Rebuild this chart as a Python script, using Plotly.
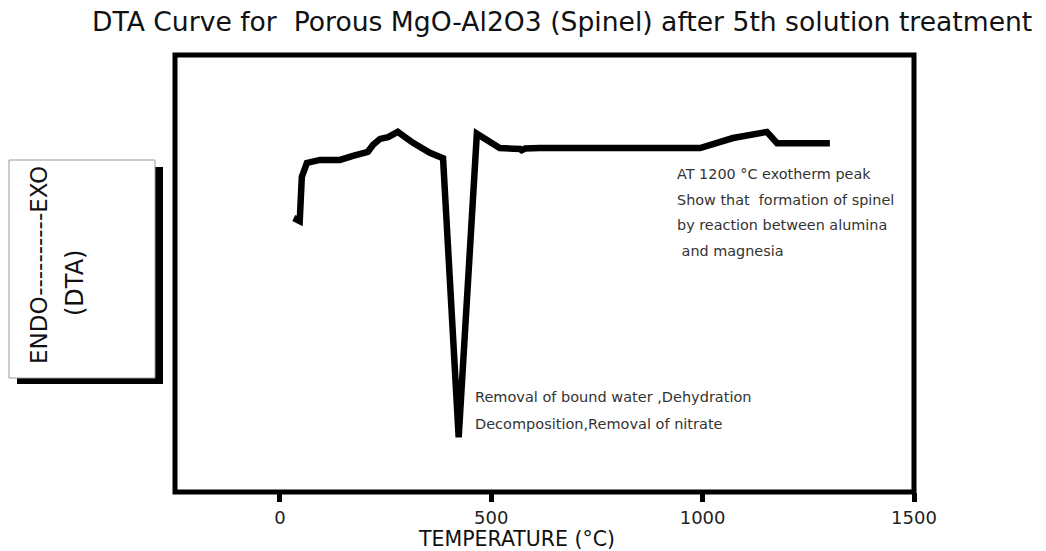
import plotly.graph_objects as go

# ---- data ----
temperature_c = [33, 47, 52, 64, 95, 142, 173, 208, 220, 237, 256, 279, 315, 355, 386,
                 423, 466, 520, 568, 572, 580, 615, 994, 1072, 1152, 1176, 1301]
dta_signal = [62.7, 62.0, 72.1, 75.3, 76.0, 76.0, 76.9, 77.8, 79.4, 80.8, 81.2, 82.4, 79.9,
              77.6, 76.4, 12.5, 82.0, 78.7, 78.5, 78.2, 78.6, 78.7, 78.7, 81.0, 82.4, 79.8, 79.8]
x_ticks = [0, 500, 1000, 1500]

title_text = "DTA Curve for  Porous MgO-Al2O3 (Spinel) after 5th solution treatment"
x_title = "TEMPERATURE (°C)"
y_label_1 = "ENDO----------EXO"
y_label_2 = "(DTA)"
note_exo = ["AT 1200 °C exotherm peak", "Show that  formation of spinel",
            "by reaction between alumina", " and magnesia"]
note_endo = ["Removal of bound water ,Dehydration", "Decomposition,Removal of nitrate"]

W, H = 1046, 551
ML, MR, MT, MB = 175, 132, 55, 59
PW, PH = W - ML - MR, H - MT - MB


def px(x):
    return (x - ML) / PW


def py(y):
    return (H - MB - y) / PH


FONT = "DejaVu Sans"

fig = go.Figure()
fig.add_trace(go.Scatter(x=temperature_c, y=dta_signal, mode="lines",
                         line=dict(color="black", width=6.5), hoverinfo="skip",
                         showlegend=False))

shapes = [
    # frame
    dict(type="rect", xref="paper", yref="paper", x0=0, x1=1, y0=0, y1=1,
         line=dict(color="black", width=5)),
    # y-label box shadow
    dict(type="rect", xref="paper", yref="paper", x0=px(17), x1=px(163), y0=py(384), y1=py(167),
         fillcolor="black", line=dict(width=0)),
    # y-label box
    dict(type="rect", xref="paper", yref="paper", x0=px(9), x1=px(155), y0=py(378), y1=py(160),
         fillcolor="white", line=dict(color="#9a9a9a", width=1)),
]

annotations = [
    dict(text=title_text, x=px(562), y=py(21), xref="paper", yref="paper", showarrow=False,
         xanchor="center", yanchor="middle", font=dict(family=FONT, size=26.6, color="#111")),
    dict(text=x_title, x=px(516), y=py(539), xref="paper", yref="paper", showarrow=False,
         xanchor="center", yanchor="middle", font=dict(family=FONT, size=20.5, color="#111")),
    dict(text=y_label_1, x=px(39), y=py(265), xref="paper", yref="paper", showarrow=False,
         textangle=-90, xanchor="center", yanchor="middle",
         font=dict(family=FONT, size=23, color="#111")),
    dict(text=y_label_2, x=px(75), y=py(283), xref="paper", yref="paper", showarrow=False,
         textangle=-90, xanchor="center", yanchor="middle",
         font=dict(family=FONT, size=24, color="#111")),
]
for i, t in enumerate(note_exo):
    annotations.append(dict(text=t, x=px(675), y=py(174 + 25.7 * i), xref="paper", yref="paper",
                            showarrow=False, xanchor="left", yanchor="middle",
                            font=dict(family=FONT, size=14.4, color="#333")))
for i, t in enumerate(note_endo):
    annotations.append(dict(text=t, x=px(473), y=py(397 + 27 * i), xref="paper", yref="paper",
                            showarrow=False, xanchor="left", yanchor="middle",
                            font=dict(family=FONT, size=14.5, color="#333")))

fig.update_layout(
    width=W, height=H, margin=dict(l=ML, r=MR, t=MT, b=MB),
    paper_bgcolor="white", plot_bgcolor="white",
    shapes=shapes, annotations=annotations,
    xaxis=dict(range=[-248, 1500], tickvals=x_ticks, ticks="outside", ticklen=9,
               tickwidth=5, tickcolor="black", showgrid=False, zeroline=False,
               showline=False, tickfont=dict(family=FONT, size=18, color="#222")),
    yaxis=dict(range=[0, 100], visible=False, showgrid=False, zeroline=False),
)

fig.write_html("out.html")
